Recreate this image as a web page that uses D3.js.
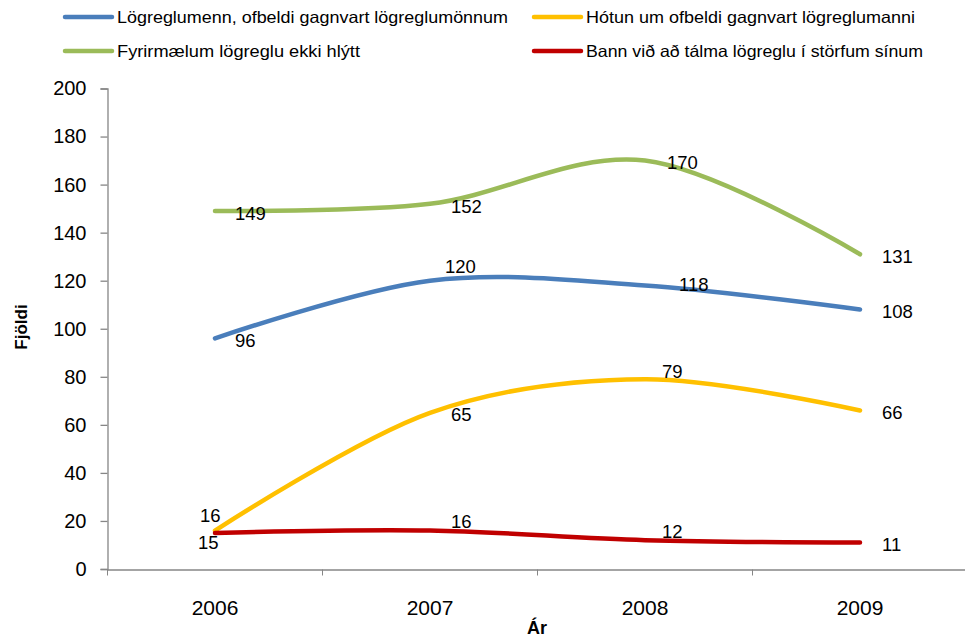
<!DOCTYPE html>
<meta charset="utf-8">
<style>
    body{ margin:0; background:#fff; }
    svg{ font-family:"Liberation Sans", Arial, sans-serif; }
    .tick text{ fill:#000; }
</style>
<script src="https://d3js.org/d3.v7.min.js"></script>
<body>
<div id="chart"></div>
<script>
    // data
    years = ["2006", "2007", "2008", "2009"]
    seriesNames = [
        "Lögreglumenn, ofbeldi gagnvart lögreglumönnum",
        "Hótun um ofbeldi gagnvart lögreglumanni",
        "Fyrirmælum lögreglu ekki hlýtt",
        "Bann við að tálma lögreglu í störfum sínum"
    ]
    logreglumenn = [96, 120, 118, 108]
    hotun = [16, 65, 79, 66]
    fyrirmaelum = [149, 152, 170, 131]
    bann = [15, 16, 12, 11]
    yTicks = [0, 20, 40, 60, 80, 100, 120, 140, 160, 180, 200]

    colors = ["#4a7ebb", "#ffc000", "#9bbb59", "#c00000"]
    // label placement as it was moved in the original: [dx from point to text start, dy of text centre]
    labelOffsets = [
        [[20, 2], [15, -14], [34, -1], [22, 2]],
        [[-15, -15], [21, 2], [17, -8], [22, 2]],
        [[20, 2], [21, 3], [22, 2], [22, 2]],
        [[-17, 10], [21, -9], [17, -9], [22, 2]]
    ]

    var series = [logreglumenn, hotun, fyrirmaelum, bann];
    var width = 965, height = 637;

    svg = d3.select("#chart")
            .append("svg")
            .attr("width", width)
            .attr("height", height);

    var x = d3.scaleBand().domain(years).range([107.5, 967.5]);
    var y = d3.scaleLinear().domain([0, 200]).range([569, 88.5]);

    // y axis
    var yAxis = svg.append("g")
        .attr("transform", "translate(107.5,0)")
        .call(d3.axisLeft(y).tickValues(yTicks).tickSize(7).tickPadding(14));
    yAxis.selectAll("text").style("font-size", "20px");

    // x axis
    var xAxis = svg.append("g")
        .attr("transform", "translate(0,569.5)")
        .call(d3.axisBottom(x).tickSize(0).tickPadding(31));
    xAxis.selectAll("text").style("font-size", "21px");
    // ticks between categories
    xAxis.selectAll(".sep")
        .data(years)
        .enter().append("line")
        .attr("class", "sep")
        .attr("x1", function(d){ return x(d); })
        .attr("x2", function(d){ return x(d); })
        .attr("y1", 0).attr("y2", 6)
        .attr("stroke", "#868686");

    svg.selectAll(".domain, .tick line").attr("stroke", "#868686").attr("stroke-width", 1.3);

    // axis titles
    svg.append("text")
       .attr("transform", "translate(21,327) rotate(-90)")
       .attr("text-anchor", "middle")
       .attr("dy", "0.35em")
       .style("font-size", "17px")
       .style("font-weight", "bold")
       .text("Fjöldi");
    svg.append("text")
       .attr("x", 537).attr("y", 628)
       .attr("text-anchor", "middle")
       .attr("dy", "0.35em")
       .style("font-size", "18px")
       .style("font-weight", "bold")
       .text("Ár");

    var line = d3.line()
        .x(function(d, i){ return x(years[i]) + x.bandwidth()/2; })
        .y(function(d){ return y(d); })
        .curve(d3.curveCardinal.tension(0));

    // draw in the order the original stacks them
    [2, 0, 1, 3].forEach(function(s){
        svg.append("path")
           .attr("d", line(series[s]))
           .attr("fill", "none")
           .attr("stroke", colors[s])
           .attr("stroke-width", 4.5)
           .attr("stroke-linecap", "round");
    });

    series.forEach(function(vals, s){
        svg.selectAll(".lab" + s)
           .data(vals)
           .enter().append("text")
           .attr("class", "lab" + s)
           .attr("x", function(d, i){ return x(years[i]) + x.bandwidth()/2 + labelOffsets[s][i][0]; })
           .attr("y", function(d, i){ return y(d) + labelOffsets[s][i][1]; })
           .attr("dy", "0.35em")
           .style("font-size", "18.5px")
           .text(function(d){ return d; });
    });

    // legend, two columns
    var legendPos = [[65, 17], [534, 17], [65, 51], [534, 51]];
    var legendWidths = [391, 329, 243, 337];
    seriesNames.forEach(function(name, s){
        var p = legendPos[s];
        svg.append("line")
           .attr("x1", p[0]).attr("x2", p[0] + 47)
           .attr("y1", p[1]).attr("y2", p[1])
           .attr("stroke", colors[s])
           .attr("stroke-width", 4.5)
           .attr("stroke-linecap", "round");
        svg.append("text")
           .attr("x", p[0] + 52).attr("y", p[1])
           .attr("dy", "0.35em")
           .attr("textLength", legendWidths[s])
           .attr("lengthAdjust", "spacingAndGlyphs")
           .style("font-size", "16.5px")
           .text(name);
    });
</script>
</body>
